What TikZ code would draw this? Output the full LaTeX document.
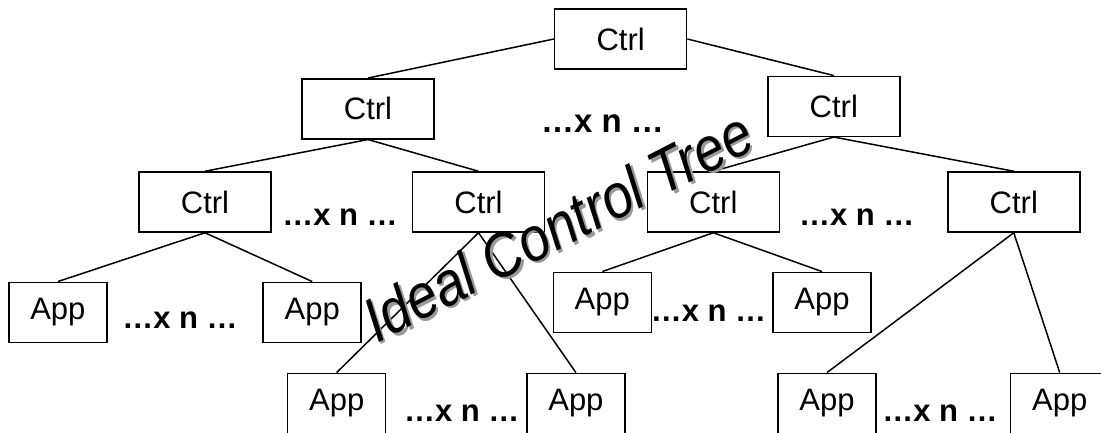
\documentclass[tikz,border=0pt]{standalone}
\usepackage{fontspec}
\setmainfont{Liberation Sans}
\begin{document}
\begin{tikzpicture}[x=1pt,y=1pt,
  box/.style={draw, line width=1.5pt, inner sep=0pt, minimum height=60pt, fill=white, font=\fontsize{31}{36}\selectfont},
  ctrl/.style={box, minimum width=132pt},
  app/.style={box, minimum width=98pt},
  dots/.style={font=\fontsize{31}{36}\selectfont\bfseries, inner sep=0pt, anchor=base},
  link/.style={line width=1.5pt},
  mark text/.style={rotate=27.2, anchor=base, inner sep=0pt}]
\useasboundingbox (0,0) rectangle (1101,432);
\clip (0,0) rectangle (1101,432);
\coordinate (cT) at (620.6,393);
\coordinate (cL) at (368,323.2);
\coordinate (cR) at (833.8,325.7);
\coordinate (cA) at (205,230);
\coordinate (cB) at (478.5,230);
\coordinate (cC) at (713.3,230);
\coordinate (cD) at (1013.8,230);
% boxes
\node[ctrl] (top) at (cT) {Ctrl};
\node[ctrl] (l2l) at (cL) {Ctrl};
\node[ctrl] (l2r) at (cR) {Ctrl};
\node[ctrl] (a) at (cA) {Ctrl};
\node[ctrl] (b) at (cB) {Ctrl};
\node[ctrl] (c) at (cC) {Ctrl};
\node[ctrl] (d) at (cD) {Ctrl};
\node[app] (p1) at (57.9,119.7) {App};
\node[app] (p2) at (312.2,119.7) {App};
\node[app] (p3) at (602.3,129.7) {App};
\node[app] (p4) at (822,129.7) {App};
\node[app] (p5) at (336.7,28.7) {App};
\node[app] (p6) at (575.9,28.7) {App};
\node[app] (p7) at (827,28.7) {App};
\node[app] (p8) at (1059.7,28.7) {App};
% connectors
\draw[link] (top.west) -- (l2l.north);
\draw[link] (top.east) -- (l2r.north);
\draw[link] (l2l.south) -- (a.north);
\draw[link] (l2l.south) -- (b.north);
\draw[link] (l2r.south) -- (c.north);
\draw[link] (l2r.south) -- (d.north);
\draw[link] (a.south) -- (p1.north);
\draw[link] (a.south) -- (p2.north);
\draw[link] (b.south) -- (p5.north);
\draw[link] (b.south) -- (p6.north);
\draw[link] (c.south) -- (p3.north);
\draw[link] (c.south) -- (p4.north);
\draw[link] (d.south) -- (p7.north);
\draw[link] (d.south) -- (p8.north);
% ellipsis labels
\node[dots, font=\fontsize{33}{38}\selectfont\bfseries] (n0) at (602.5,299) {…x n …};
\node[dots] (n1) at (340,207) {…x n …};
\node[dots] (n2) at (856.8,207) {…x n …};
\node[dots] (n3) at (180,103.7) {…x n …};
\node[dots] (n4) at (708.5,110.3) {…x n …};
\node[dots] (n5) at (461.7,10.3) {…x n …};
\node[dots] (n6) at (940,10.3) {…x n …};
% watermark with shadow
\node[mark text, text=black!40] (wms) at (570.2,183.9) {\scalebox{1}[1.15]{\fontsize{54}{60}\selectfont\itshape Ideal Control Tree}};
\node[mark text, text=black] (wm) at (567.7,186.4) {\scalebox{1}[1.15]{\fontsize{54}{60}\selectfont\itshape Ideal Control Tree}};
\end{tikzpicture}
\end{document}
